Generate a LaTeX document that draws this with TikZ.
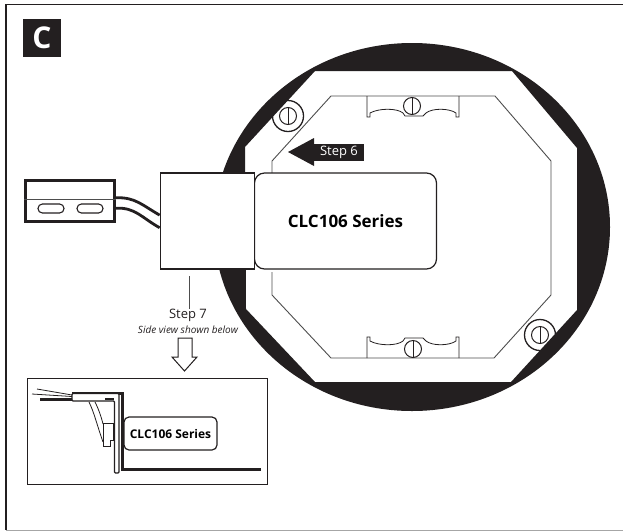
\documentclass[tikz,border=0pt]{standalone}
\usepackage{fontspec}
\setmainfont{Open Sans}
\usetikzlibrary{shapes,arrows,positioning,fit}
\definecolor{inkblack}{HTML}{231F20}
\definecolor{thingray}{HTML}{4D4D4D}
\tikzstyle{plain} = [draw=inkblack,line width=1.2pt,fill=white,inner sep=0]
\tikzstyle{series} = [plain,rounded corners=10pt,font=\fontsize{17}{19}\selectfont\bfseries]
\tikzstyle{wire} = [inkblack,line width=2.8pt]
\tikzstyle{thin line} = [thingray,line width=0.9pt]
\tikzstyle{caption} = [inner sep=0,text=inkblack]
\tikzset{
  screw/.pic={
    \draw[inkblack,line width=1pt] (0,0) circle (8.5pt);
    \draw[inkblack,line width=1pt] (0,-8.5) -- (0,8.5);
  },
  clamp/.pic={
    \draw[inkblack,line width=0.8pt] (-46,0) -- (-46,21) -- (-43,21) -- (-43,17)
      .. controls (-34,12) and (-16,12) .. (-10,17) -- (-8,20) -- (10,20) -- (13,17)
      .. controls (19,12) and (36,12) .. (43,17) -- (43,21) -- (46,21) -- (46,0);
  }
}
\begin{document}
\begin{tikzpicture}[x=1pt,y=-1pt]
  \useasboundingbox (0,0) rectangle (623,531);
  % frame
  \draw[inkblack,line width=1.2pt] (623,4.5) -- (6,4.5) -- (6,530);
  \draw[gray!70,line width=1pt] (6,530.5) -- (623,530.5);
  \node[fill=inkblack,text=white,minimum size=38pt,inner sep=0,font=\fontsize{30}{30}\selectfont\bfseries] (badge) at (42,38) {C};
  % fixture
  \draw[inkblack,line width=1.3pt] (288,116) circle (15.5pt);
  \draw[inkblack,line width=1.3pt] (540,335) circle (15.5pt);
  \pic at (288,116) {screw};
  \pic at (540,335) {screw};
  \fill[inkblack,even odd rule] (412,227) ellipse [x radius=198pt,y radius=184pt]
    (315,71) -- (512,71) -- (577,148) -- (577,310) -- (511,382) -- (315,382) -- (246,309) -- (245,147) -- cycle;
  \draw[thin line] (272,272) -- (272,295) -- (331,358) -- (494,358) -- (551,295) -- (551,161) -- (495,96) -- (331,96) -- (272,161) -- (272,174);
  \pic at (413,96) {clamp};
  \pic[yscale=-1] at (413,358) {clamp};
  \pic at (412,106) {screw};
  \pic at (413,349) {screw};
  % boxes
  \node[series,minimum width=182pt,minimum height=96pt] (series) at (345.5,221) {CLC106 Series};
  \node[plain,minimum width=94.5pt,minimum height=96pt] (junction) at (207.5,221) {};
  % step 6
  \node[fill=inkblack,text=white,inner sep=0,minimum width=50pt,minimum height=17pt,font=\fontsize{13}{15}\selectfont] (step6) at (339,152.5) {Step 6\hspace{4pt}};
  \fill[inkblack] (314,138) -- (288,152) -- (314,166) -- cycle;
  % plug
  \node[draw=inkblack,line width=3pt,minimum width=89pt,minimum height=41pt,inner sep=0] (plug) at (70,201) {};
  \draw[thin line] (plug.west |- 0,199) -- (plug.east |- 0,199);
  \draw[inkblack,line width=1.1pt,rounded corners=4.4pt] (38,204) rectangle (64,213);
  \draw[inkblack,line width=1.1pt,rounded corners=4.4pt] (77,204) rectangle (103,213);
  \draw[wire] (plug.4) .. controls (135,197) and (142,205) .. (junction.173);
  \draw[wire] (plug.-9) .. controls (135,207) and (142,218) .. (junction.188);
  % step 7
  \node[caption,font=\fontsize{13}{15}\selectfont] (step7) at (188,315) {Step 7};
  \node[caption,font=\fontsize{10}{12}\selectfont\itshape] (sideview) at (188,330) {Side view shown below};
  \coordinate (leader) at (189,276);
  \draw[thin line] (leader) -- (leader |- step7.north);
  \draw[inkblack,line width=1pt,fill=white] (178,338) -- (192,338) -- (192,357) -- (197,357) -- (184.5,371) -- (172,357) -- (178,357) -- cycle;
  % side view
  \node[draw=inkblack,line width=0.9pt,minimum width=240pt,minimum height=106pt,inner sep=0] (inset) at (147,431) {};
  \draw[inkblack,line width=2.5pt] (40,399.5) -- (72,399.5);
  \draw[inkblack,line width=0.8pt] (32,394) -- (72,396.5);
  \draw[inkblack,line width=0.8pt] (37,389) -- (72,395);
  \draw[inkblack,line width=3pt] (72,393) -- (122,393) -- (122,469.5) -- (261,469.5);
  \draw[inkblack,line width=1.2pt,fill=white,rounded corners=1pt] (72,393.5) -- (119,393.5) -- (119,473) -- (114.5,473) -- (114.5,401) -- (72,401) -- cycle;
  \draw[inkblack,line width=2.5pt] (105,399) -- (114,399);
  \draw[inkblack,line width=0.8pt] (89,402) .. controls (94,412) and (97,425) .. (103,442);
  \draw[inkblack,line width=0.8pt] (95,402) .. controls (99,410) and (101,416) .. (103,424);
  \draw[inkblack,line width=1pt,fill=white] (103,423) -- (113,423) -- (113,440) -- (110,440) -- (110,446) -- (103,446) -- cycle;
  \node[plain,rounded corners=5pt,minimum width=93pt,minimum height=33pt,font=\fontsize{12}{14}\selectfont\bfseries] (series2) at (170.5,433.5) {CLC106 Series};
\end{tikzpicture}
\end{document}
